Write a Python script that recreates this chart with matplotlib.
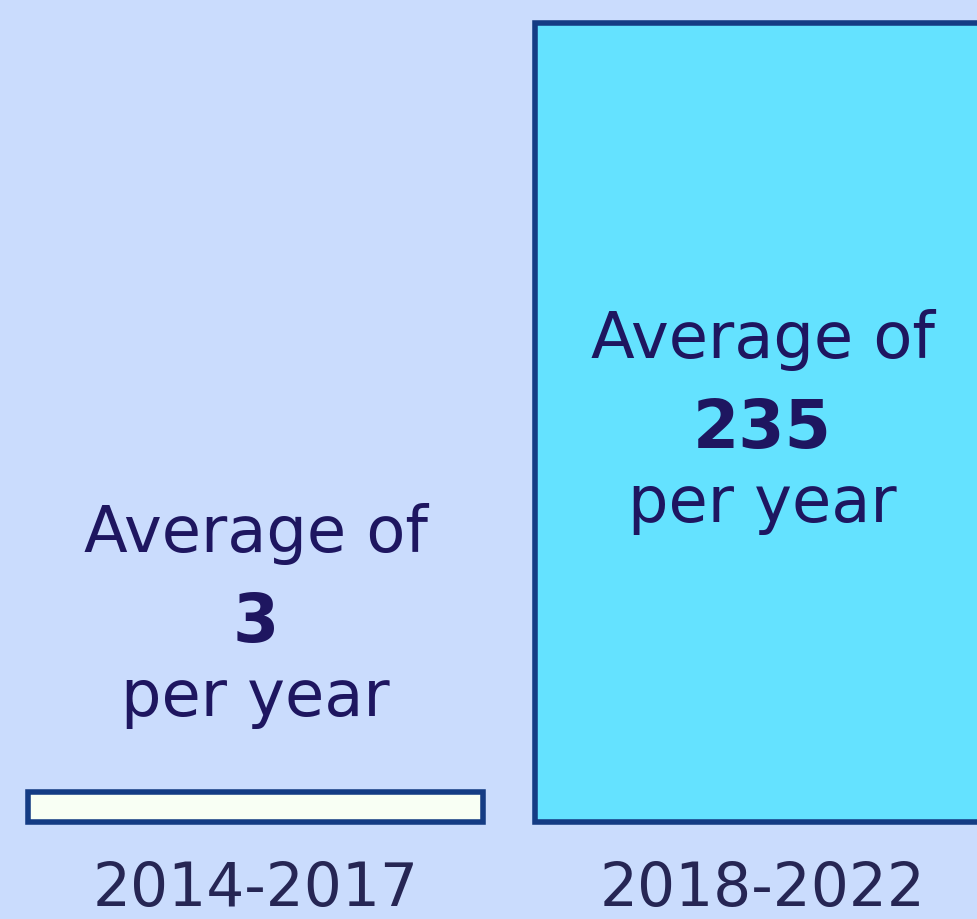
import matplotlib
matplotlib.use("Agg")
import matplotlib.pyplot as plt
import numpy as np

# data
periods = ['2014-2017', '2018-2022']
avg_per_year = [3, 235]

bg = '#CADCFD'
fills = ['#F8FFF4', '#64E2FF']
edge = '#143C84'
txt = '#1E1660'
lbl = '#262654'

plt.rcParams['font.family'] = ['DejaVu Sans']

fig = plt.figure(figsize=(9.77, 9.19), dpi=100)
fig.patch.set_facecolor(bg)
ax = fig.add_axes([0, 0, 1, 1])
ax.set_facecolor(bg)

x = np.arange(len(periods))
# the small bar gets a minimum visible height like in the original
heights = np.maximum(avg_per_year, 9)
ax.bar(x, heights, width=0.899, color=fills, edgecolor=edge, linewidth=4)

ax.set_xlim(-0.504, 1.423)
ax.set_ylim(-28.36, 241.7)
ax.axis('off')

# text block baselines (pixels from top)
blocks = [(552, 642, 716), (358, 448, 522)]
xpix = [255.5, 762.5]
W, H = 977.0, 919.0
for i in range(len(periods)):
    xf = xpix[i] / W
    b1, b2, b3 = blocks[i]
    fig.text(xf, 1 - b1 / H, 'Average of', ha='center', va='baseline',
             fontsize=46, color=txt)
    fig.text(xf, 1 - b2 / H, str(avg_per_year[i]), ha='center', va='baseline',
             fontsize=48, fontweight='bold', color=txt)
    fig.text(xf, 1 - b3 / H, 'per year', ha='center', va='baseline',
             fontsize=46, color=txt)
    # period label sits at the very bottom edge
    fig.text(xf, 0.0, periods[i], ha='center', va='bottom',
             fontsize=43, color=lbl)

plt.savefig('out.png', dpi=100, facecolor=bg)
